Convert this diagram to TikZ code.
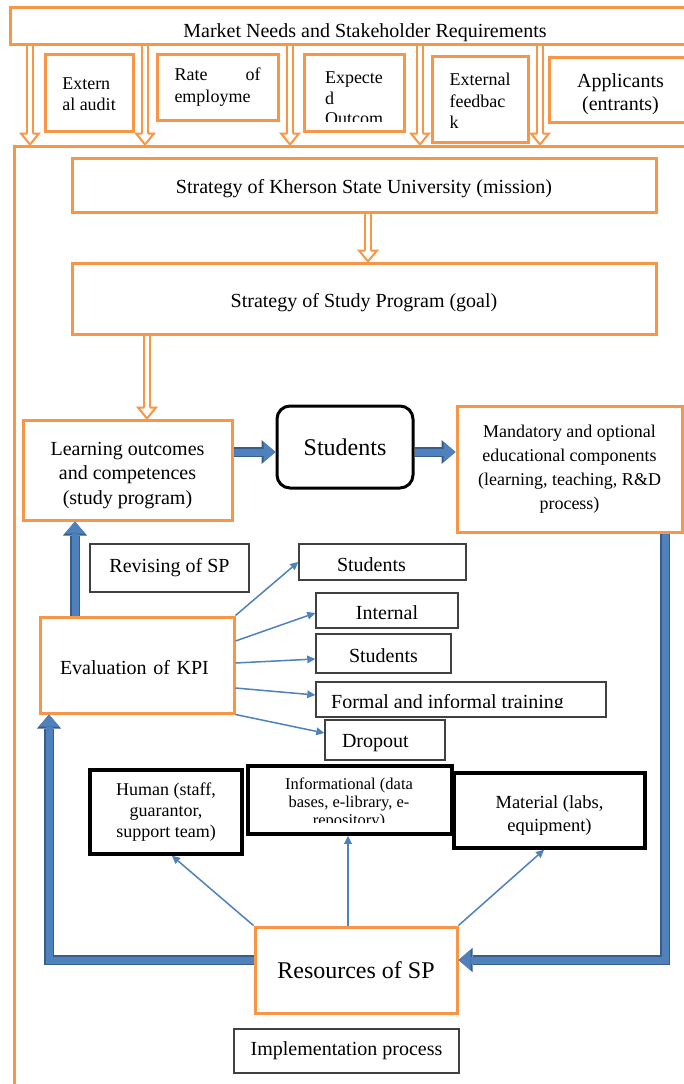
\documentclass[tikz,border=0pt]{standalone}
\usepackage{fontspec}
\setmainfont{Liberation Serif}
\usetikzlibrary{arrows.meta, decorations.markings}
\definecolor{korange}{HTML}{F79646}
\definecolor{kblue}{HTML}{4F81BD}
\definecolor{kbluedk}{HTML}{385D8A}
\definecolor{kgray}{HTML}{404040}
\tikzset{
  obox/.style    = {draw=korange, line width=3pt, fill=white, inner sep=0pt,
                    align=center, font=\fontsize{20}{24}\selectfont},
  topbox/.style  = {obox, align=left, font=\fontsize{18}{21.5}\selectfont},
  kbox/.style    = {draw=black, line width=3.5pt, fill=white, inner sep=0pt,
                    align=center, font=\fontsize{18}{21}\selectfont},
  gbox/.style    = {draw=kgray, line width=1.5pt, fill=white, inner sep=0pt,
                    align=center, font=\fontsize{20}{24}\selectfont},
  hollow/.style  = {draw=korange, line width=2pt, double=white, double distance=3.5pt,
                    shorten >=10pt,
                    postaction={decorate, decoration={markings, mark=at position 1 with {
                      \path[fill=white, draw=korange, line width=2pt, shorten >=0pt]
                        (-11pt,2.75pt) -- (-11pt,9pt) -- (0pt,0pt) -- (-11pt,-9pt) -- (-11pt,-2.75pt);}}}},
  flow/.style    = {draw=kblue, line width=7pt,
                    -{Triangle[length=12pt, width=20pt, line width=0pt]},
                    preaction={draw=kbluedk, line width=10pt,
                               -{Triangle[length=14pt, width=24pt, line width=0pt]}}},
  feed/.style    = {draw=kblue, line width=1.5pt,
                    -{Triangle[length=8pt, width=8pt, line width=0pt]}},
}
\begin{document}
\begin{tikzpicture}[x=1pt, y=-1pt, line join=miter]
  \useasboundingbox (0,0) rectangle (684,1084);
  \clip (0,0) rectangle (684,1084);
  \node[obox, minimum width=706pt, minimum height=964pt] (frame) at (367,628) {};
  \node[obox, minimum width=710pt, minimum height=37pt] (market) at (365,25.5)
    {\rule{0pt}{27.5pt}Market Needs and Stakeholder Requirements};
  \node[topbox, minimum width=88pt, minimum height=77pt] (audit) at (89,92.5)
    {\rule{0pt}{15.3pt}Extern\\al audit};
  \node[topbox, minimum width=121pt, minimum height=66pt, text width=86pt] (rate) at (217.5,87)
    {Rate\hfill of\\employme};
  \node[topbox, minimum width=100pt, minimum height=77pt] (expected) at (354,92.5) {};
  \begin{scope}
    \clip (304,54) rectangle (404,121.5);
    \node[align=left, inner sep=0pt, font=\fontsize{18}{20.5}\selectfont] (expectedtext) at (354,98.5)
      {Expecte\\d\\Outcom};
  \end{scope}
  \node[topbox, minimum width=96pt, minimum height=86pt] (feedback) at (480,99)
    {\rule{0pt}{16.3pt}External\\feedbac\\k};
  \node[obox, minimum width=143pt, minimum height=65pt, font=\fontsize{20}{23}\selectfont]
    (applicants) at (620.5,89.5) {\rule{0pt}{23.5pt}Applicants\\(entrants)};
  \foreach \ax in {30,145,290,420,540}{%
    \draw[hollow] (\ax,0 |- market.south) -- (\ax,0 |- frame.north);}
  \node[obox, minimum width=584pt, minimum height=54pt] (kherson) at (364,185)
    {\rule{0pt}{22pt}Strategy of Kherson State University (mission)};
  \node[obox, minimum width=584pt, minimum height=71pt] (spgoal) at (364,298.5)
    {\rule{0pt}{22pt}Strategy of Study Program (goal)};
  \draw[hollow] (368,0 |- kherson.south) -- (368,0 |- spgoal.north);
  \node[obox, minimum width=209pt, minimum height=100pt, font=\fontsize{20}{24.5}\selectfont]
    (learn) at (127.5,470) {\rule{0pt}{23.5pt}Learning outcomes\\and competences\\(study program)};
  \draw[hollow] (147,0 |- spgoal.south) -- (147,0 |- learn.north);
  \node[kbox, line width=3pt, rounded corners=13pt, minimum width=136pt, minimum height=82pt,
    font=\fontsize{24}{28}\selectfont] (students) at (345,447) {Students};
  \node[obox, minimum width=225pt, minimum height=126pt, font=\fontsize{18}{24}\selectfont]
    (mandatory) at (569.5,469)
    {Mandatory and optional\\educational components\\(learning, teaching, R\&D\\process)};
  \node[gbox, minimum width=159pt, minimum height=48pt] (revising) at (169.5,568) {Revising of SP};
  \node[obox, minimum width=194pt, minimum height=96pt, text width=154pt, align=left]
    (eval) at (137,665) {\rule{0pt}{19.5pt}Evaluation of KPI};
  \node[gbox, minimum width=167pt, minimum height=36pt, text width=91pt, align=left]
    (stud1) at (382.5,562) {\rule{0pt}{19pt}Students};
  \node[gbox, minimum width=142pt, minimum height=35pt] (internal) at (387,610.5)
    {\rule{0pt}{19pt}Internal};
  \node[gbox, minimum width=135pt, minimum height=39pt] (stud2) at (383.5,653.5)
    {\rule{0pt}{17.7pt}Students};
  \node[gbox, minimum width=290pt, minimum height=35pt] (formal) at (461,699.5) {};
  \begin{scope}
    \clip (316,682) rectangle (606,707);
    \node[anchor=base west, inner sep=0pt, font=\fontsize{20}{24}\selectfont] (formaltext)
      at (331,708) {Formal and informal training};
  \end{scope}
  \node[gbox, minimum width=120pt, minimum height=40pt, text width=86pt, align=left]
    (dropout) at (385,740) {\rule{0pt}{19pt}Dropout};
  \node[kbox, minimum width=152pt, minimum height=84pt] (human) at (166,812)
    {Human (staff,\\guarantor,\\support team)};
  \node[kbox, minimum width=204pt, minimum height=68pt] (info) at (350,800) {};
  \begin{scope}
    \clip (248,766) rectangle (452,822.5);
    \node[align=center, inner sep=0pt, font=\fontsize{16.5}{18}\selectfont] (infotext) at (349,803)
      {Informational (data\\bases, e-library, e-\\repository)};
  \end{scope}
  \node[kbox, minimum width=191pt, minimum height=75pt, font=\fontsize{18.5}{23}\selectfont]
    (material) at (549.5,810.5) {\rule{0pt}{22.5pt}Material (labs,\\equipment)};
  \node[obox, minimum width=202pt, minimum height=86pt, font=\fontsize{24}{28}\selectfont]
    (resources) at (356,970) {Resources of SP};
  \node[gbox, minimum width=225pt, minimum height=44pt] (impl) at (346.5,1051) {Implementation process};
  \draw[flow] (learn.east |- 0,452) -- (students.west |- 0,452);
  \draw[flow] (students.east |- 0,452) -- (mandatory.west |- 0,452);
  \draw[flow] (75,0 |- eval.north) -- (75,0 |- learn.south);
  \draw[flow] (665,0 |- mandatory.south) |- (resources.east |- 0,960);
  \draw[flow] (resources.west |- 0,960) -| (49,0 |- eval.south);
  \draw[feed] (eval.north east) -- (stud1.west);
  \draw[feed] (eval.east |- 0,641) -- (internal.west |- 0,613);
  \draw[feed] (eval.east |- 0,663) -- (stud2.west |- 0,659);
  \draw[feed] (eval.east |- 0,688) -- (formal.west |- 0,695);
  \draw[feed] (eval.south east) -- (dropout.west |- 0,733);
  \draw[feed] (resources.north west) -- (172,0 |- human.south);
  \draw[feed] (348,0 |- resources.north) -- (348,0 |- info.south);
  \draw[feed] (resources.north east) -- (544,0 |- material.south);
\end{tikzpicture}
\end{document}
